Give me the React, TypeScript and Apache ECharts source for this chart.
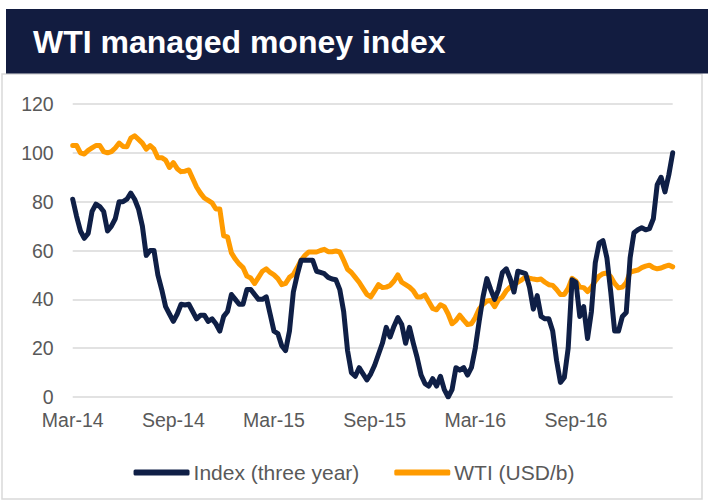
import React, { useEffect, useRef } from "react";
import * as echarts from "echarts";

const tickLabels = ["Mar-14", "Sep-14", "Mar-15", "Sep-15", "Mar-16", "Sep-16"];

const indexValues = [
  81, 74, 68, 65, 67, 76, 79, 78, 76, 68,
  70, 73, 80, 80, 81, 83.5, 81, 77, 70, 58,
  60, 60, 50, 44, 37, 34, 31, 34, 38, 37.7,
  38, 35, 32, 33.5, 33.5, 31, 32, 30, 27, 33,
  35, 42, 40, 38, 38, 44, 44, 42, 40, 40,
  41, 34, 27, 26, 21, 19, 27, 43, 50, 56,
  56, 56, 56, 51.5, 51, 50.5, 49, 48.3, 48, 44,
  35, 19, 10, 8.5, 12, 9.5, 7, 9.5, 13, 17.5,
  22, 28.5, 24.6, 29, 32.5, 29.7, 22, 28.5, 22, 16,
  9, 5.5, 4.5, 7.5, 4.5, 8.5, 3, 0, 3, 12,
  11, 12, 9, 12, 20, 31, 41, 48.5, 44, 40,
  44, 51, 52.5, 48.6, 43, 51.5, 51, 50.5, 45, 36,
  41.5, 33, 32, 32, 27, 15, 6, 8, 20, 48,
  47, 33, 37, 24, 35, 55, 63, 64, 57, 43,
  27, 27, 33, 34.6, 57, 67.3, 68.5, 69.3, 68.5, 69,
  73, 87, 90, 84, 91, 100,
];

const wtiValues = [
  103, 103, 100, 99.5, 101, 102, 103, 103, 100.5, 100,
  100.5, 102, 104, 102.6, 102.5, 106, 107, 105.5, 104, 101.5,
  103, 101.5, 98, 98, 97, 94, 96, 93.5, 92.3, 92.5,
  93, 89.5, 86, 83.5, 81.5, 80.5, 79.5, 77, 77, 66,
  65.6, 59, 56.5, 54.5, 53, 49.5, 48.7, 46.5, 49, 51.5,
  52.5, 51, 50, 48.5, 46, 46.5, 49, 50.2, 53, 56,
  58, 59.4, 59.4, 59.4, 60, 60.5, 59.5, 59.5, 59.8, 59.4,
  56, 52.3, 51, 49, 47, 44.5, 42, 41, 43.5, 46,
  44.8, 45, 45.7, 47.5, 50, 47, 46, 45, 43.5, 41,
  41, 41.8, 39, 36.3, 35.7, 37.8, 37, 34, 30, 31.3,
  33.5, 31.5, 29.7, 30, 32.5, 36, 38, 39.3, 39.5, 37,
  39.8, 41, 43.5, 45, 46.2, 47, 48, 49.2, 48.7, 48.3,
  48, 48.3, 47, 46, 45.7, 44, 42, 42, 44.5, 48.6,
  47.5, 45, 44.8, 43.2, 45, 47.5, 49.5, 50.5, 50.8, 49.2,
  46.5, 44.7, 45, 46.8, 51.2, 51.6, 52, 53, 53.6, 54,
  53, 52.5, 52.8, 53.5, 54, 53.3,
];

const yTicks = { min: 0, max: 120, interval: 20 };

const TICK_STEP = 26; // weeks between labelled ticks (six months)

const categories = indexValues.map((_, i) =>
  i % TICK_STEP === 0 && tickLabels[i / TICK_STEP] ? tickLabels[i / TICK_STEP] : "w" + i
);

const FONT = "'Liberation Sans', Arial, Helvetica, sans-serif";
const NAVY = "#121c40";
const LINE_NAVY = "#0f1f46";
const ORANGE = "#ff9b00";
const GRID = "#d9d9d9";
const LABEL = "#595959";

export default function App() {
  const ref = useRef<HTMLDivElement>(null);

  useEffect(() => {
    if (!ref.current) return;
    const chart = echarts.init(ref.current, undefined, { renderer: "svg" });
    chart.setOption({
      animation: false,
      backgroundColor: "#ffffff",
      graphic: [
        {
          type: "rect",
          shape: { x: 2, y: 74, width: 700, height: 425 },
          style: { fill: "#ffffff", stroke: GRID, lineWidth: 1.5 },
          z: -10,
          silent: true,
        },
        {
          type: "rect",
          shape: { x: 6, y: 9, width: 702, height: 64.5 },
          style: { fill: NAVY },
          z: 10,
          silent: true,
        },
        {
          type: "text",
          x: 33,
          y: 41.5,
          z: 11,
          style: {
            text: "WTI managed money index",
            fill: "#ffffff",
            font: `bold 32px ${FONT}`,
            verticalAlign: "middle",
            align: "left",
          },
          silent: true,
        },
      ],
      grid: { left: 72.7, right: 35.3, top: 104, bottom: 103, containLabel: false },
      legend: {
        data: ["Index (three year)", "WTI (USD/b)"],
        left: "center",
        top: 457,
        icon: "roundRect",
        itemWidth: 56,
        itemHeight: 6,
        itemGap: 35,
        textStyle: { fontFamily: FONT, fontSize: 21, color: LABEL, padding: [0, 0, 0, -1] },
      },
      xAxis: {
        type: "category",
        data: categories,
        boundaryGap: false,
        axisLine: { show: false },
        axisTick: { show: false },
        splitLine: { show: false },
        axisLabel: {
          interval: (index: number) => index % TICK_STEP === 0,
          fontFamily: FONT,
          fontSize: 19.5,
          color: LABEL,
          margin: 13,
        },
      },
      yAxis: {
        type: "value",
        min: yTicks.min,
        max: yTicks.max,
        interval: yTicks.interval,
        axisLine: { show: false },
        axisTick: { show: false },
        splitLine: { show: true, lineStyle: { color: GRID, width: 1.5 } },
        axisLabel: { fontFamily: FONT, fontSize: 19.5, color: LABEL, margin: 19 },
      },
      series: [
        {
          name: "Index (three year)",
          type: "line",
          data: indexValues,
          showSymbol: false,
          symbol: "none",
          itemStyle: { color: LINE_NAVY },
          lineStyle: { color: LINE_NAVY, width: 5, cap: "round", join: "round" },
          z: 3,
        },
        {
          name: "WTI (USD/b)",
          type: "line",
          data: wtiValues,
          showSymbol: false,
          symbol: "none",
          itemStyle: { color: ORANGE },
          lineStyle: { color: ORANGE, width: 5, cap: "round", join: "round" },
          z: 2,
        },
      ],
    });
    return () => chart.dispose();
  }, []);

  return (
    <div
      ref={ref}
      style={{ position: "absolute", left: 0, top: 0, width: 708, height: 500 }}
    />
  );
}
